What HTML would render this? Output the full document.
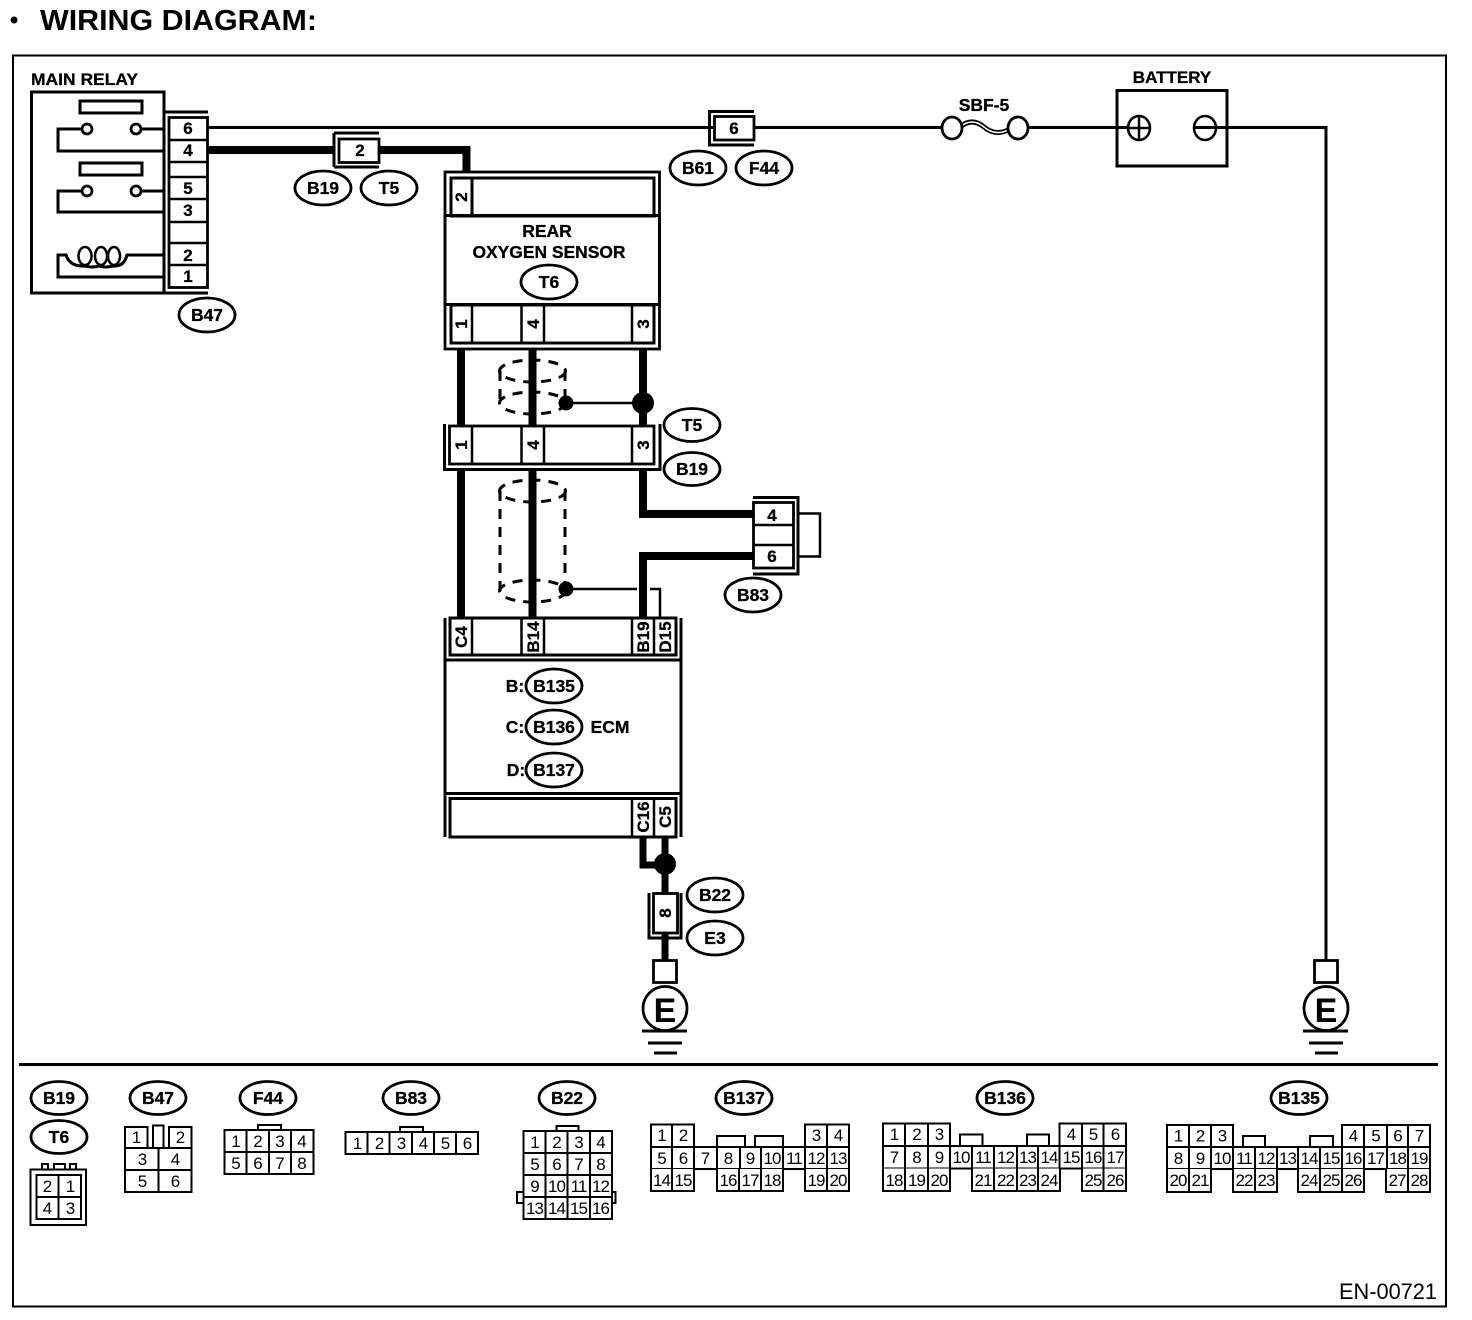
<!DOCTYPE html>
<html><head><meta charset="utf-8"><style>
html,body{margin:0;padding:0;background:#fff}
svg{display:block}
text{font-family:"Liberation Sans",sans-serif;fill:#000;stroke:none}
.b{font-weight:bold;font-size:17.5px;text-anchor:middle;stroke:#000;stroke-width:.3}
.p{font-weight:bold;font-size:17px;text-anchor:middle;stroke:#000;stroke-width:.3}
.n{font-size:17px;letter-spacing:-1px;text-anchor:middle}
.o{fill:#fff;stroke:#000;stroke-width:2.8}
.c{fill:#fff;stroke:#000;stroke-width:2}
.l{fill:none;stroke:#000;stroke-width:2.5}
.m{fill:none;stroke:#000;stroke-width:3}
.w{fill:none;stroke:#000;stroke-width:8}
.d{fill:none;stroke:#000;stroke-width:3;stroke-dasharray:10 8}
</style></head><body>
<svg width="1472" height="1320" viewBox="0 0 1472 1320" xmlns="http://www.w3.org/2000/svg">
<rect width="1472" height="1320" fill="#fff"/>
<circle cx="14" cy="20" r="3.5" fill="#000"/>
<text x="40" y="30" font-weight="bold" font-size="29px" textLength="277" lengthAdjust="spacingAndGlyphs">WIRING DIAGRAM:</text>
<rect x="13" y="55.5" width="1433" height="1251" fill="none" stroke="#000" stroke-width="2"/>

<!-- main relay -->
<text x="31" y="85" font-weight="bold" font-size="17px" textLength="107" lengthAdjust="spacingAndGlyphs" style="stroke:#000;stroke-width:.3">MAIN RELAY</text>
<rect x="31.5" y="92" width="132.5" height="201" class="m" fill="none"/>
<rect x="80" y="101" width="62" height="12" class="m"/>
<rect x="80" y="163" width="62" height="12" class="m"/>
<path class="m" d="M82 129H58V151H164M141 129H164M82 191H58V212H164M141 191H164"/>
<circle cx="87" cy="129" r="5" class="o"/>
<circle cx="136" cy="129" r="5" class="o"/>
<circle cx="87" cy="191" r="5" class="o"/>
<circle cx="136" cy="191" r="5" class="o"/>
<path class="m" d="M164 277H58V255H66Q70 267 85 266Q92 268 99 266Q106 268 113 266Q124 267 127 255H164"/>
<ellipse cx="85" cy="256" rx="6.5" ry="9" class="l"/>
<ellipse cx="101" cy="256" rx="6" ry="9" class="l"/>
<ellipse cx="114" cy="256" rx="6" ry="9" class="l"/>
<path class="m" d="M164 112H208M164 293H208"/>
<path class="l" d="M164 112V293"/>
<rect x="169" y="117.5" width="38.5" height="170" class="o" stroke-width="3"/>
<path class="l" d="M169 140H208M169 162H208M169 177H208M169 199H208M169 222H208M169 243H208M169 265H208"/>
<text class="p" x="188" y="134">6</text><text class="p" x="188" y="156">4</text>
<text class="p" x="188" y="194">5</text><text class="p" x="188" y="216">3</text>
<text class="p" x="188" y="261">2</text><text class="p" x="188" y="282">1</text>
<ellipse class="o" cx="207" cy="315" rx="28" ry="17"/><text class="b" x="207" y="321">B47</text>

<!-- top wires -->
<path class="m" d="M208 127.5H945"/>
<path class="w" d="M208 150H334M377 150H466.5V174"/>
<path class="m" d="M334 167H379M334 133H379M334 133V167"/>
<rect x="339" y="139" width="40" height="23.5" class="o" stroke-width="3"/>
<text class="p" x="360" y="156">2</text>
<ellipse class="o" cx="323" cy="188" rx="28" ry="17"/><text class="b" x="323" y="194">B19</text>
<ellipse class="o" cx="389" cy="188" rx="28" ry="17"/><text class="b" x="389" y="194">T5</text>

<!-- connector 6 -->
<path class="m" d="M754 127.5H945M1028 127.5H1128M1195 127.5H1326V962"/>
<path class="m" d="M754 111.5H709.5V145H754"/>
<rect x="714.5" y="116.5" width="39.5" height="23.5" class="o" stroke-width="3"/>
<text class="p" x="734" y="134">6</text>
<ellipse class="o" cx="698" cy="168" rx="28" ry="17"/><text class="b" x="698" y="174">B61</text>
<ellipse class="o" cx="764" cy="168" rx="28" ry="17"/><text class="b" x="764" y="174">F44</text>

<!-- fuse -->
<text class="b" x="984" y="111">SBF-5</text>
<path d="M960 127Q972 117 984 127T1010 129" fill="none" stroke="#000" stroke-width="5"/>
<path d="M960 127Q972 117 984 127T1010 129" fill="none" stroke="#fff" stroke-width="1.5"/>
<ellipse class="o" cx="952" cy="128" rx="10" ry="11"/>
<ellipse class="o" cx="1018" cy="128" rx="10" ry="11"/>

<!-- battery -->
<text class="b" x="1172" y="83" style="font-size:17px">BATTERY</text>
<rect x="1117" y="90.5" width="110" height="75.5" class="m"/>
<ellipse cx="1139" cy="128" rx="11" ry="12" class="l"/>
<path class="l" d="M1128 128H1150M1139 116V140"/>
<ellipse cx="1205" cy="128" rx="11" ry="12" class="l"/>

<!-- rear oxygen sensor -->
<path class="d" d="M500 371V403M565 371V403M500 491V591M565 491V591"/>
<ellipse class="d" cx="532.5" cy="371" rx="33" ry="11"/>
<ellipse class="d" cx="532.5" cy="403" rx="33" ry="11"/>
<ellipse class="d" cx="532.5" cy="491" rx="33" ry="11"/>
<ellipse class="d" cx="532.5" cy="591" rx="33" ry="11"/>
<path class="w" d="M461 349V426M532.5 349V426M643 349V426M461 469V618M532.5 469V618M643 469V514H754M754 556H643V618"/>
<path class="l" d="M566 403H643M566 589H637M650 589H660V618"/>
<circle cx="643" cy="403" r="11" fill="#000"/>
<circle cx="566" cy="403" r="7.5" fill="#000"/>
<circle cx="566" cy="589" r="7.5" fill="#000"/>

<rect x="445" y="172" width="214.5" height="177" class="o" stroke-width="3"/>
<rect x="451" y="178" width="203" height="38" class="m"/>
<path class="m" d="M472 178V216"/>
<rect x="445" y="215.5" width="214.5" height="89" class="m"/>
<rect x="451" y="305" width="203" height="38" class="m"/>
<path class="l" d="M472 305V343M521.500 305V343M544 305V343M632 305V343"/>
<text class="p" transform="rotate(-90 461 197)" x="461" y="203">2</text>
<text class="p" transform="rotate(-90 461 324)" x="461" y="330">1</text>
<text class="p" transform="rotate(-90 533 324)" x="533" y="330">4</text>
<text class="p" transform="rotate(-90 643 324)" x="643" y="330">3</text>
<text class="b" x="547" y="237">REAR</text>
<text class="b" x="549" y="258" textLength="153" lengthAdjust="spacingAndGlyphs">OXYGEN SENSOR</text>
<ellipse class="o" cx="549" cy="282" rx="28" ry="17"/><text class="b" x="549" y="288">T6</text>

<!-- T5/B19 connector -->
<path class="m" d="M444.500 424V469.500H660V424"/>
<rect x="449.500" y="426" width="204.500" height="38" class="o" stroke-width="3"/>
<path class="l" d="M472 426V464M521.500 426V464M544 426V464M632 426V464"/>
<text class="p" transform="rotate(-90 461 445)" x="461" y="451">1</text>
<text class="p" transform="rotate(-90 533 445)" x="533" y="451">4</text>
<text class="p" transform="rotate(-90 643 445)" x="643" y="451">3</text>
<ellipse class="o" cx="692" cy="425" rx="28" ry="16.500"/><text class="b" x="692" y="431">T5</text>
<ellipse class="o" cx="692" cy="469" rx="28" ry="16.500"/><text class="b" x="692" y="475">B19</text>

<!-- B83 connector -->
<rect x="798" y="513.500" width="22" height="43" class="l"/>
<path class="m" d="M753 497.500H798V574H753"/>
<rect x="753.500" y="502.500" width="40" height="65.500" class="o" stroke-width="3"/>
<path class="l" d="M753 525H793M753 545H793"/>
<text class="p" x="772" y="521">4</text><text class="p" x="772" y="562">6</text>
<ellipse class="o" cx="753" cy="595" rx="28" ry="17"/><text class="b" x="753" y="601">B83</text>

<!-- ECM -->
<rect x="445" y="617.500" width="236" height="219.500" fill="#fff"/>
<path class="m" d="M445 618V837M681 618V837"/>
<rect x="450" y="618" width="226" height="37" class="m"/>
<path class="l" d="M472 618V655M521.500 618V655M544 618V655M632 618V655M654 618V655"/>
<path class="m" d="M445 660H681M445 793.500H681"/>
<rect x="450" y="798.500" width="226" height="38.500" class="m"/>
<path class="l" d="M632 798.500V837M654 798.500V837"/>
<text class="p" transform="rotate(-90 461 637)" x="461" y="643">C4</text>
<text class="p" transform="rotate(-90 533 637)" x="533" y="643">B14</text>
<text class="p" transform="rotate(-90 643 637)" x="643" y="643">B19</text>
<text class="p" transform="rotate(-90 665 637)" x="665" y="643">D15</text>
<text class="p" transform="rotate(-90 643 817)" x="643" y="823">C16</text>
<text class="p" transform="rotate(-90 665 817)" x="665" y="823">C5</text>
<text class="b" x="515" y="692">B:</text>
<ellipse class="o" cx="554" cy="686" rx="28" ry="17"/><text class="b" x="554" y="692">B135</text>
<text class="b" x="515" y="733">C:</text>
<ellipse class="o" cx="554" cy="727" rx="28" ry="17"/><text class="b" x="554" y="733">B136</text>
<text class="b" x="610" y="733">ECM</text>
<text class="b" x="516" y="776">D:</text>
<ellipse class="o" cx="554" cy="770" rx="28" ry="17"/><text class="b" x="554" y="776">B137</text>

<!-- bottom left ground -->
<path fill="none" stroke="#000" stroke-width="7" d="M643 837V865H665M665 837V960"/>
<circle cx="665" cy="864" r="11" fill="#000"/>
<path class="m" d="M649 893V938H681V893"/>
<rect x="653.500" y="893.500" width="24" height="39.500" class="o" stroke-width="3"/>
<text class="p" transform="rotate(-90 665 913)" x="665" y="919">8</text>
<ellipse class="o" cx="715" cy="895" rx="28" ry="17"/><text class="b" x="715" y="901">B22</text>
<ellipse class="o" cx="715" cy="938" rx="28" ry="17"/><text class="b" x="715" y="944">E3</text>
<circle cx="665" cy="1008.500" r="22" class="o"/>
<rect x="653.500" y="960.500" width="23" height="22" class="o"/>
<text x="665" y="1022" font-weight="bold" font-size="34px" text-anchor="middle">E</text>
<path class="m" d="M642 1031H687M648 1043H682M654 1053H677"/>

<!-- right ground -->
<circle cx="1326" cy="1008.500" r="22" class="o"/>
<rect x="1314.500" y="960.500" width="23" height="22" class="o"/>
<text x="1326" y="1022" font-weight="bold" font-size="34px" text-anchor="middle">E</text>
<path class="m" d="M1303 1031H1348M1309 1043H1343M1315 1053H1338"/>

<path d="M19 1064.500H1438" stroke="#000" stroke-width="3"/>

<!-- B19/T6 -->
<ellipse class="o" cx="59" cy="1098" rx="28" ry="16.500"/><text class="b" x="59" y="1104">B19</text>
<ellipse class="o" cx="59" cy="1137" rx="28" ry="16.500"/><text class="b" x="59" y="1143">T6</text>
<path class="c" d="M42 1169V1164H48V1169M54 1169V1164H65V1169M70 1169V1164H76V1169"/>
<rect x="30.500" y="1169.500" width="55.500" height="55.500" class="c"/>
<rect x="36.500" y="1175" width="44.500" height="44" class="c"/>
<path class="c" d="M58.500 1175V1219M36.500 1197H81"/>
<text class="n" x="47" y="1192">2</text><text class="n" x="70" y="1192">1</text>
<text class="n" x="47" y="1214">4</text><text class="n" x="70" y="1214">3</text>

<!-- B47 -->
<ellipse class="o" cx="158" cy="1098" rx="28" ry="16.500"/><text class="b" x="158" y="1104">B47</text>
<rect x="125" y="1127" width="22.500" height="21" class="c"/>
<rect x="153" y="1125.500" width="10.500" height="22.500" class="c"/>
<rect x="169" y="1127" width="22.500" height="21" class="c"/>
<rect x="125" y="1148" width="66.500" height="44" class="c"/>
<path class="c" d="M125 1170H191.500M158.500 1148V1192"/>
<text class="n" x="136" y="1143">1</text><text class="n" x="180" y="1143">2</text>
<text class="n" x="142" y="1165">3</text><text class="n" x="175" y="1165">4</text>
<text class="n" x="142" y="1187">5</text><text class="n" x="175" y="1187">6</text>

<!-- F44 -->
<ellipse class="o" cx="268" cy="1098" rx="28" ry="16.500"/><text class="b" x="268" y="1104">F44</text>
<rect x="258" y="1125" width="23" height="5" class="c"/>
<rect x="224.500" y="1130" width="89" height="44" class="c"/>
<path class="c" d="M246.500 1130V1174M269 1130V1174M291 1130V1174M224.500 1152H313.500"/>
<text class="n" x="235.500" y="1147">1</text><text class="n" x="257.500" y="1147">2</text><text class="n" x="279.500" y="1147">3</text><text class="n" x="301.500" y="1147">4</text>
<text class="n" x="235.500" y="1169">5</text><text class="n" x="257.500" y="1169">6</text><text class="n" x="279.500" y="1169">7</text><text class="n" x="301.500" y="1169">8</text>

<!-- B83 -->
<ellipse class="o" cx="411" cy="1098" rx="28" ry="16.500"/><text class="b" x="411" y="1104">B83</text>
<rect x="400" y="1127" width="23" height="5" class="c"/>
<rect x="345.500" y="1132" width="132.500" height="22" class="c"/>
<path class="c" d="M367.500 1132V1154M389.500 1132V1154M412 1132V1154M434 1132V1154M456 1132V1154"/>
<text class="n" x="357" y="1149">1</text><text class="n" x="379" y="1149">2</text><text class="n" x="401" y="1149">3</text><text class="n" x="423" y="1149">4</text><text class="n" x="445" y="1149">5</text><text class="n" x="467" y="1149">6</text>

<!-- B22 -->
<ellipse class="o" cx="567" cy="1098" rx="28" ry="16.500"/><text class="b" x="567" y="1104">B22</text>
<g transform="translate(-2.500 0)">
<rect x="559" y="1126" width="22" height="5" class="c"/>
<rect x="519.500" y="1192" width="6.500" height="11" class="c"/>
<rect x="611.500" y="1192" width="6.500" height="11" class="c"/>
<rect x="526" y="1131" width="88.500" height="88" class="c"/>
<path class="c" d="M548 1131V1219M570 1131V1219M592.500 1131V1219M526 1153H614.500M526 1175H614.500M526 1197H614.500"/>
<text class="n" x="537" y="1148">1</text><text class="n" x="559" y="1148">2</text><text class="n" x="581" y="1148">3</text><text class="n" x="603" y="1148">4</text>
<text class="n" x="537" y="1170">5</text><text class="n" x="559" y="1170">6</text><text class="n" x="581" y="1170">7</text><text class="n" x="603" y="1170">8</text>
<text class="n" x="537" y="1192">9</text><text class="n" x="559" y="1192">10</text><text class="n" x="581" y="1192">11</text><text class="n" x="603" y="1192">12</text>
<text class="n" x="537" y="1214">13</text><text class="n" x="559" y="1214">14</text><text class="n" x="581" y="1214">15</text><text class="n" x="603" y="1214">16</text>
</g>

<!-- B137 -->
<ellipse class="o" cx="744" cy="1098" rx="28" ry="16.500"/><text class="b" x="744" y="1104">B137</text>
<rect x="717" y="1136" width="28" height="11" class="c"/>
<rect x="755" y="1136" width="28" height="11" class="c"/>
<path class="c" d="M651 1147V1124.500H694V1147M672 1124.500V1147M805 1147V1124.500H849V1147M827 1124.500V1147"/>
<rect x="651" y="1147" width="198" height="22" class="c"/>
<path class="c" d="M672 1147V1169M694 1147V1169M717 1147V1169M740 1147V1169M761 1147V1169M783 1147V1169M805 1147V1169M827 1147V1169"/>
<path class="c" d="M651 1169V1191H694V1169M672 1169V1191M717 1169V1191H783V1169M739 1169V1191M761 1169V1191M805 1169V1191H849V1169M827 1169V1191"/>
<text class="n" x="661.500" y="1141">1</text><text class="n" x="683" y="1141">2</text><text class="n" x="816" y="1141">3</text><text class="n" x="838" y="1141">4</text>
<text class="n" x="661.500" y="1164">5</text><text class="n" x="683" y="1164">6</text><text class="n" x="705" y="1164">7</text><text class="n" x="728" y="1164">8</text><text class="n" x="750" y="1164">9</text><text class="n" x="772" y="1164">10</text><text class="n" x="794" y="1164">11</text><text class="n" x="816" y="1164">12</text><text class="n" x="838" y="1164">13</text>
<text class="n" x="661.500" y="1186">14</text><text class="n" x="683" y="1186">15</text><text class="n" x="728" y="1186">16</text><text class="n" x="750" y="1186">17</text><text class="n" x="772" y="1186">18</text><text class="n" x="816" y="1186">19</text><text class="n" x="838" y="1186">20</text>

<!-- B136 -->
<ellipse class="o" cx="1005" cy="1098" rx="28" ry="16.500"/><text class="b" x="1005" y="1104">B136</text>
<rect x="960" y="1134.500" width="22.500" height="11.500" class="c"/>
<rect x="1027" y="1134.500" width="22" height="11.500" class="c"/>
<path class="c" d="M883 1146V1123.500H950V1146M905 1123.500V1146M928 1123.500V1146M1059.500 1146V1123.500H1126V1146M1082 1123.500V1146M1103.500 1123.500V1146"/>
<rect x="883" y="1146" width="243" height="22.500" class="c"/>
<path class="c" d="M905 1146V1168.500M928 1146V1168.500M950 1146V1168.500M972 1146V1168.500M994 1146V1168.500M1017 1146V1168.500M1038 1146V1168.500M1059.500 1146V1168.500M1082 1146V1168.500M1103.500 1146V1168.500"/>
<path class="c" d="M883 1168.500V1191H950V1168.500M905 1168.500V1191M928 1168.500V1191M972 1168.500V1191H1060V1168.500M994 1168.500V1191M1017 1168.500V1191M1038 1168.500V1191M1082 1168.500V1191H1126V1168.500M1103.500 1168.500V1191"/>
<text class="n" x="894" y="1140">1</text><text class="n" x="916.500" y="1140">2</text><text class="n" x="939" y="1140">3</text><text class="n" x="1071" y="1140">4</text><text class="n" x="1093" y="1140">5</text><text class="n" x="1115" y="1140">6</text>
<text class="n" x="894" y="1163">7</text><text class="n" x="916.500" y="1163">8</text><text class="n" x="939" y="1163">9</text><text class="n" x="961" y="1163">10</text><text class="n" x="983" y="1163">11</text><text class="n" x="1005.500" y="1163">12</text><text class="n" x="1027.500" y="1163">13</text><text class="n" x="1049" y="1163">14</text><text class="n" x="1071" y="1163">15</text><text class="n" x="1093" y="1163">16</text><text class="n" x="1115" y="1163">17</text>
<text class="n" x="894" y="1186">18</text><text class="n" x="916.500" y="1186">19</text><text class="n" x="939" y="1186">20</text><text class="n" x="983" y="1186">21</text><text class="n" x="1005.500" y="1186">22</text><text class="n" x="1027.500" y="1186">23</text><text class="n" x="1049" y="1186">24</text><text class="n" x="1093" y="1186">25</text><text class="n" x="1115" y="1186">26</text>

<!-- B135 -->
<ellipse class="o" cx="1299" cy="1098" rx="28" ry="16.500"/><text class="b" x="1299" y="1104">B135</text>
<rect x="1243" y="1136" width="22" height="11" class="c"/>
<rect x="1310" y="1136" width="23" height="11" class="c"/>
<path class="c" d="M1167 1147V1125H1233V1147M1189 1125V1147M1211 1125V1147M1342 1147V1125H1430V1147M1364 1125V1147M1387 1125V1147M1408 1125V1147"/>
<rect x="1167" y="1147" width="263" height="22" class="c"/>
<path class="c" d="M1189 1147V1169M1211 1147V1169M1233 1147V1169M1255 1147V1169M1277 1147V1169M1298 1147V1169M1320 1147V1169M1342 1147V1169M1364 1147V1169M1387 1147V1169M1408 1147V1169"/>
<path class="c" d="M1167 1169V1192H1211V1169M1189 1169V1192M1233 1169V1192H1277V1169M1255 1169V1192M1298 1169V1192H1364V1169M1320 1169V1192M1342 1169V1192M1386 1169V1192H1430V1169M1408 1169V1192"/>
<text class="n" x="1178" y="1141.500">1</text><text class="n" x="1200" y="1141.500">2</text><text class="n" x="1222" y="1141.500">3</text><text class="n" x="1353" y="1141.500">4</text><text class="n" x="1375.500" y="1141.500">5</text><text class="n" x="1397.500" y="1141.500">6</text><text class="n" x="1419" y="1141.500">7</text>
<text class="n" x="1178" y="1164">8</text><text class="n" x="1200" y="1164">9</text><text class="n" x="1222" y="1164">10</text><text class="n" x="1244" y="1164">11</text><text class="n" x="1266" y="1164">12</text><text class="n" x="1287.500" y="1164">13</text><text class="n" x="1309" y="1164">14</text><text class="n" x="1331" y="1164">15</text><text class="n" x="1353" y="1164">16</text><text class="n" x="1375.500" y="1164">17</text><text class="n" x="1397.500" y="1164">18</text><text class="n" x="1419" y="1164">19</text>
<text class="n" x="1178" y="1186">20</text><text class="n" x="1200" y="1186">21</text><text class="n" x="1244" y="1186">22</text><text class="n" x="1266" y="1186">23</text><text class="n" x="1309" y="1186">24</text><text class="n" x="1331" y="1186">25</text><text class="n" x="1353" y="1186">26</text><text class="n" x="1397" y="1186">27</text><text class="n" x="1419" y="1186">28</text>

<text x="1339" y="1299" font-size="22px" textLength="98" lengthAdjust="spacingAndGlyphs">EN-00721</text>
</svg>
</body></html>
